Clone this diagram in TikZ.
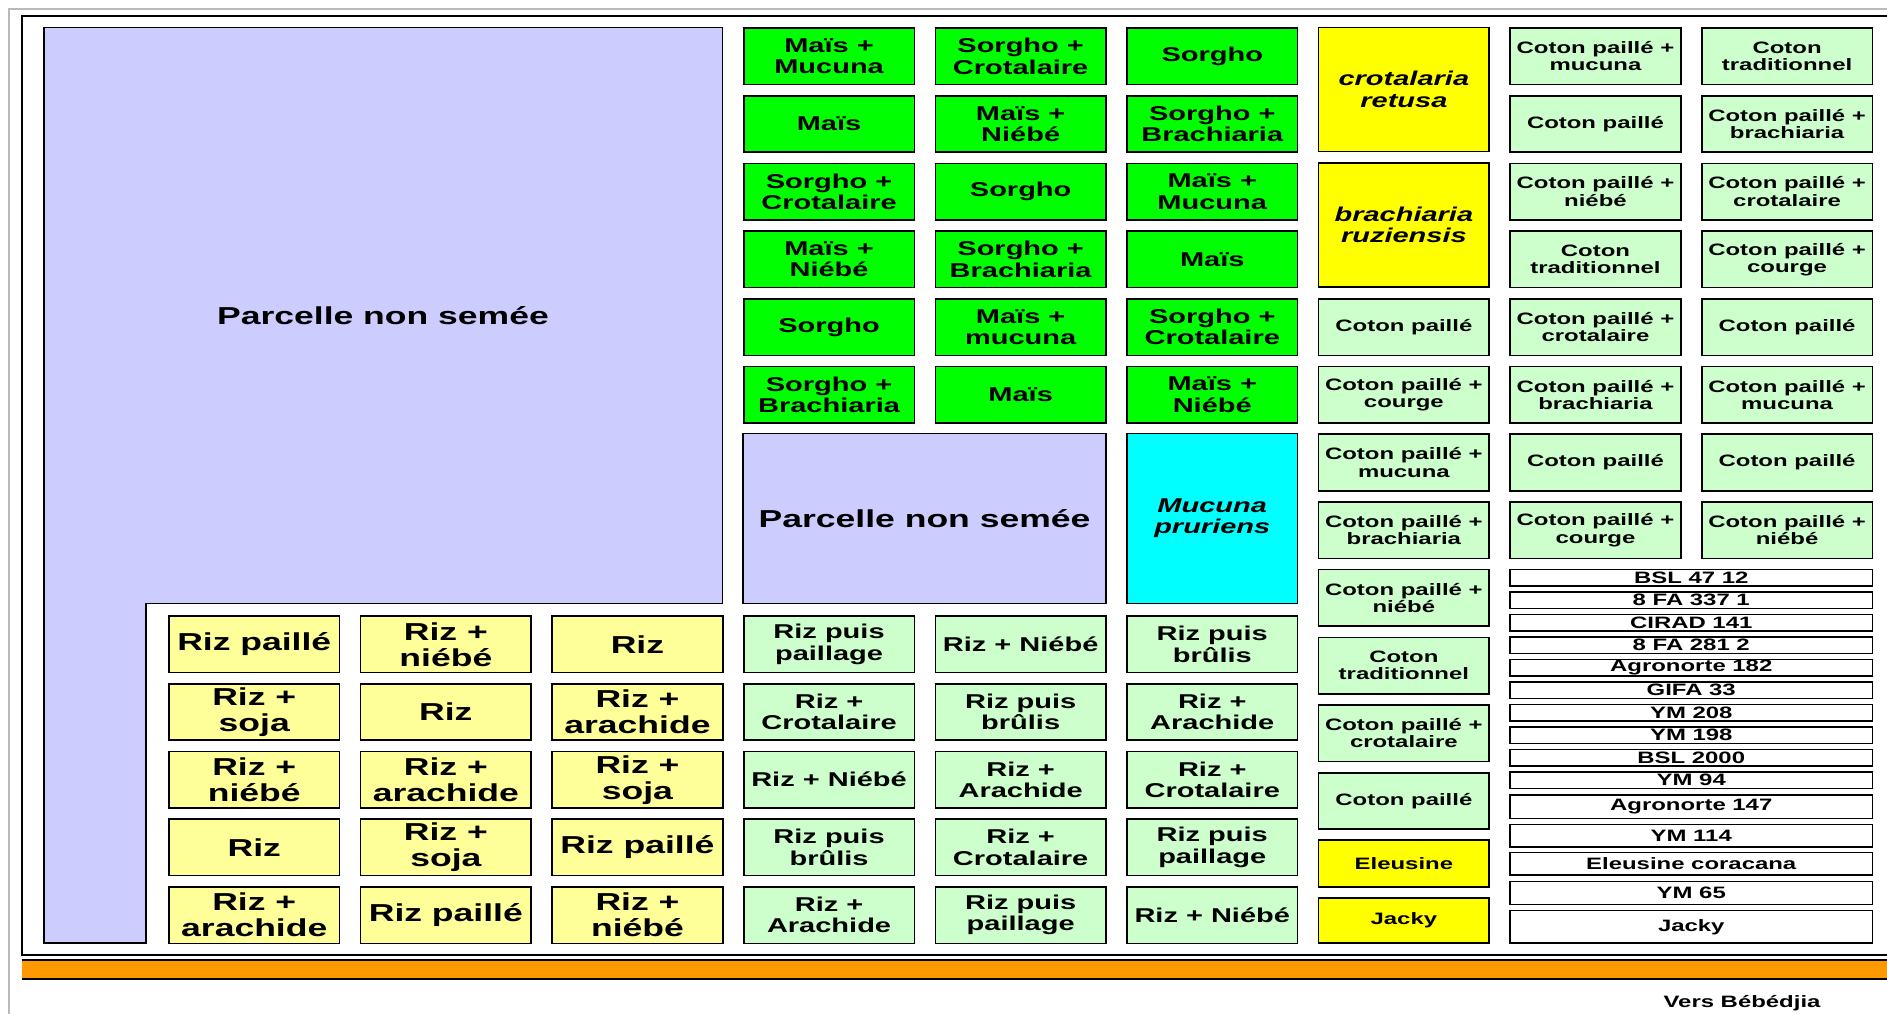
\documentclass[tikz,border=0pt]{standalone}
\usepackage{fontspec}
\newfontfamily\plotbf{Liberation Sans Bold}[FakeStretch=1.45]
\newfontfamily\plotbi{Liberation Sans Bold Italic}[FakeStretch=1.45]
\definecolor{plotlav}{HTML}{CCCCFF}
\definecolor{plotgreen}{HTML}{00FF00}
\definecolor{plotpalegreen}{HTML}{CCFFCC}
\definecolor{plotyellow}{HTML}{FFFF00}
\definecolor{plotpaleyellow}{HTML}{FFFF99}
\definecolor{plotcyan}{HTML}{00FFFF}
\definecolor{roadorange}{HTML}{FF9900}
\tikzset{
  plotbox/.style={draw=black, line width=1.6pt, rectangle, inner sep=0pt,
    minimum width=170.5pt, minimum height=56.5pt, align=center, text=black},
  bigtxt/.style={font=\plotbf\fontsize{24.5}{26}\selectfont},
  medtxt/.style={font=\plotbf\fontsize{20}{21.3}\selectfont},
  smalltxt/.style={font=\plotbf\fontsize{16.5}{17.4}\selectfont},
  ittxt/.style={font=\plotbi\fontsize{20}{21.3}\selectfont},
  gbx/.style={plotbox, fill=plotgreen, medtxt},
  cbx/.style={plotbox, fill=plotpalegreen, smalltxt},
  rbx/.style={plotbox, fill=plotpalegreen, medtxt},
  ybx/.style={plotbox, fill=plotpaleyellow, bigtxt},
  vbx/.style={plotbox, fill=plotyellow, smalltxt},
  varstrip/.style={plotbox, fill=white, smalltxt, minimum width=362.1pt},
}
% grid of plots: column k, row r
\newcommand\gridcell[5]{\node[#1] (#2) at ({254.25+191.6*(#3)},{56.3+67.7*(#4)}) {#5};}
% lower block of rice plots
\newcommand\rizcell[5]{\node[#1] (#2) at ({254.25+191.6*(#3)},{644.3+67.7*(#4)}) {#5};}
% variety strips
\newcommand\stripcell[4]{\node[varstrip, minimum height=#3pt] (#1) at (1691.25,#2) {#4};}
\begin{document}
\begin{tikzpicture}[x=1pt,y=-1pt]
\useasboundingbox (0,0) rectangle (1887,1013);
\begin{scope}
\clip (0,0) rectangle (1887,1013);
% frames and road
\draw[gray!55, line width=2.4pt] (9,9) rectangle (1910,1040);
\draw[line width=1.6pt] (21.7,16) rectangle (1910,955);
\fill[roadorange] (21.7,960) rectangle (1910,979);
\draw[line width=1.8pt] (21.7,960) -- (1910,960) (21.7,979) -- (1910,979);
\end{scope}
\node[smalltxt] (road) at (1742,1003) {Vers Bébédjia};

% unsown L-shaped plot
\draw[fill=plotlav, line width=1.6pt] (43.7,27.3) -- (722.3,27.3) -- (722.3,603.3)
  -- (145.7,603.3) -- (145.7,943) -- (43.7,943) -- cycle;
\node[bigtxt] (lav) at (383,316) {Parcelle non semée};

% cereal plots
\gridcell{gbx}{g30}{3}{0}{Maïs +\\Mucuna}
\gridcell{gbx}{g40}{4}{0}{Sorgho +\\Crotalaire}
\gridcell{gbx}{g50}{5}{0}{Sorgho}
\gridcell{gbx}{g31}{3}{1}{Maïs}
\gridcell{gbx}{g41}{4}{1}{Maïs +\\Niébé}
\gridcell{gbx}{g51}{5}{1}{Sorgho +\\Brachiaria}
\gridcell{gbx}{g32}{3}{2}{Sorgho +\\Crotalaire}
\gridcell{gbx}{g42}{4}{2}{Sorgho}
\gridcell{gbx}{g52}{5}{2}{Maïs +\\Mucuna}
\gridcell{gbx}{g33}{3}{3}{Maïs +\\Niébé}
\gridcell{gbx}{g43}{4}{3}{Sorgho +\\Brachiaria}
\gridcell{gbx}{g53}{5}{3}{Maïs}
\gridcell{gbx}{g34}{3}{4}{Sorgho}
\gridcell{gbx}{g44}{4}{4}{Maïs +\\mucuna}
\gridcell{gbx}{g54}{5}{4}{Sorgho +\\Crotalaire}
\gridcell{gbx}{g35}{3}{5}{Sorgho +\\Brachiaria}
\gridcell{gbx}{g45}{4}{5}{Maïs}
\gridcell{gbx}{g55}{5}{5}{Maïs +\\Niébé}

% second unsown plot and mucuna
\node[plotbox, fill=plotlav, bigtxt, minimum width=362.7pt, minimum height=169.8pt] (lav2) at (924.55,518.4) {Parcelle non semée};
\node[plotbox, fill=plotcyan, ittxt, minimum height=169.8pt] (muc) at (1212.25,518.4) {Mucuna\\pruriens};

% cover crop plots
\node[plotbox, fill=plotyellow, ittxt, minimum height=124.2pt] (crot) at (1403.85,89.4) {crotalaria\\retusa};
\node[plotbox, fill=plotyellow, ittxt, minimum height=124.2pt] (brach) at (1403.85,224.8) {brachiaria\\ruziensis};

% cotton plots
\gridcell{cbx}{c64}{6}{4}{Coton paillé}
\gridcell{cbx}{c65}{6}{5}{Coton paillé +\\courge}
\gridcell{cbx}{c66}{6}{6}{Coton paillé +\\mucuna}
\gridcell{cbx}{c67}{6}{7}{Coton paillé +\\brachiaria}
\gridcell{cbx}{c68}{6}{8}{Coton paillé +\\niébé}
\gridcell{cbx}{c69}{6}{9}{Coton\\traditionnel}
\gridcell{cbx}{c610}{6}{10}{Coton paillé +\\crotalaire}
\gridcell{cbx}{c611}{6}{11}{Coton paillé}
\gridcell{cbx}{c70}{7}{0}{Coton paillé +\\mucuna}
\gridcell{cbx}{c71}{7}{1}{Coton paillé}
\gridcell{cbx}{c72}{7}{2}{Coton paillé +\\niébé}
\gridcell{cbx}{c73}{7}{3}{Coton\\traditionnel}
\gridcell{cbx}{c74}{7}{4}{Coton paillé +\\crotalaire}
\gridcell{cbx}{c75}{7}{5}{Coton paillé +\\brachiaria}
\gridcell{cbx}{c76}{7}{6}{Coton paillé}
\gridcell{cbx}{c77}{7}{7}{Coton paillé +\\courge}
\gridcell{cbx}{c80}{8}{0}{Coton\\traditionnel}
\gridcell{cbx}{c81}{8}{1}{Coton paillé +\\brachiaria}
\gridcell{cbx}{c82}{8}{2}{Coton paillé +\\crotalaire}
\gridcell{cbx}{c83}{8}{3}{Coton paillé +\\courge}
\gridcell{cbx}{c84}{8}{4}{Coton paillé}
\gridcell{cbx}{c85}{8}{5}{Coton paillé +\\mucuna}
\gridcell{cbx}{c86}{8}{6}{Coton paillé}
\gridcell{cbx}{c87}{8}{7}{Coton paillé +\\niébé}

\node[vbx, minimum height=47pt] (eleu) at (1403.85,863.5) {Eleusine};
\node[vbx, minimum height=45.3pt] (jack) at (1403.85,920.4) {Jacky};

% variety strips
\stripcell{s0}{577.55}{16.5}{BSL 47 12}
\stripcell{s1}{600.05}{16.5}{8 FA 337 1}
\stripcell{s2}{622.55}{16.5}{CIRAD 141}
\stripcell{s3}{645.05}{16.5}{8 FA 281 2}
\stripcell{s4}{667.55}{16.5}{Agronorte 182}
\stripcell{s5}{690.05}{16.5}{GIFA 33}
\stripcell{s6}{712.55}{16.5}{YM 208}
\stripcell{s7}{735.05}{16.5}{YM 198}
\stripcell{s8}{757.55}{16.5}{BSL 2000}
\stripcell{s9}{780.05}{16.5}{YM 94}
\stripcell{s10}{806.75}{23.5}{Agronorte 147}
\stripcell{s11}{835.75}{22.5}{YM 114}
\stripcell{s12}{863.75}{22.5}{Eleusine coracana}
\stripcell{s13}{893}{23}{YM 65}
\stripcell{s14}{926.75}{32.5}{Jacky}

% white inset of rice plots
\draw[line width=1.6pt] (145.7,943) -- (145.7,603.3) -- (722.3,603.3);

% upland rice plots
\rizcell{ybx}{y00}{0}{0}{Riz paillé}
\rizcell{ybx}{y10}{1}{0}{Riz +\\niébé}
\rizcell{ybx}{y20}{2}{0}{Riz}
\rizcell{ybx}{y01}{0}{1}{Riz +\\soja}
\rizcell{ybx}{y11}{1}{1}{Riz}
\rizcell{ybx}{y21}{2}{1}{Riz +\\arachide}
\rizcell{ybx}{y02}{0}{2}{Riz +\\niébé}
\rizcell{ybx}{y12}{1}{2}{Riz +\\arachide}
\rizcell{ybx}{y22}{2}{2}{Riz +\\soja}
\rizcell{ybx}{y03}{0}{3}{Riz}
\rizcell{ybx}{y13}{1}{3}{Riz +\\soja}
\rizcell{ybx}{y23}{2}{3}{Riz paillé}
\rizcell{ybx}{y04}{0}{4}{Riz +\\arachide}
\rizcell{ybx}{y14}{1}{4}{Riz paillé}
\rizcell{ybx}{y24}{2}{4}{Riz +\\niébé}

% rice management plots
\rizcell{rbx}{r30}{3}{0}{Riz puis\\paillage}
\rizcell{rbx}{r40}{4}{0}{Riz + Niébé}
\rizcell{rbx}{r50}{5}{0}{Riz puis\\brûlis}
\rizcell{rbx}{r31}{3}{1}{Riz +\\Crotalaire}
\rizcell{rbx}{r41}{4}{1}{Riz puis\\brûlis}
\rizcell{rbx}{r51}{5}{1}{Riz +\\Arachide}
\rizcell{rbx}{r32}{3}{2}{Riz + Niébé}
\rizcell{rbx}{r42}{4}{2}{Riz +\\Arachide}
\rizcell{rbx}{r52}{5}{2}{Riz +\\Crotalaire}
\rizcell{rbx}{r33}{3}{3}{Riz puis\\brûlis}
\rizcell{rbx}{r43}{4}{3}{Riz +\\Crotalaire}
\rizcell{rbx}{r53}{5}{3}{Riz puis\\paillage}
\rizcell{rbx}{r34}{3}{4}{Riz +\\Arachide}
\rizcell{rbx}{r44}{4}{4}{Riz puis\\paillage}
\rizcell{rbx}{r54}{5}{4}{Riz + Niébé}
\end{tikzpicture}
\end{document}
